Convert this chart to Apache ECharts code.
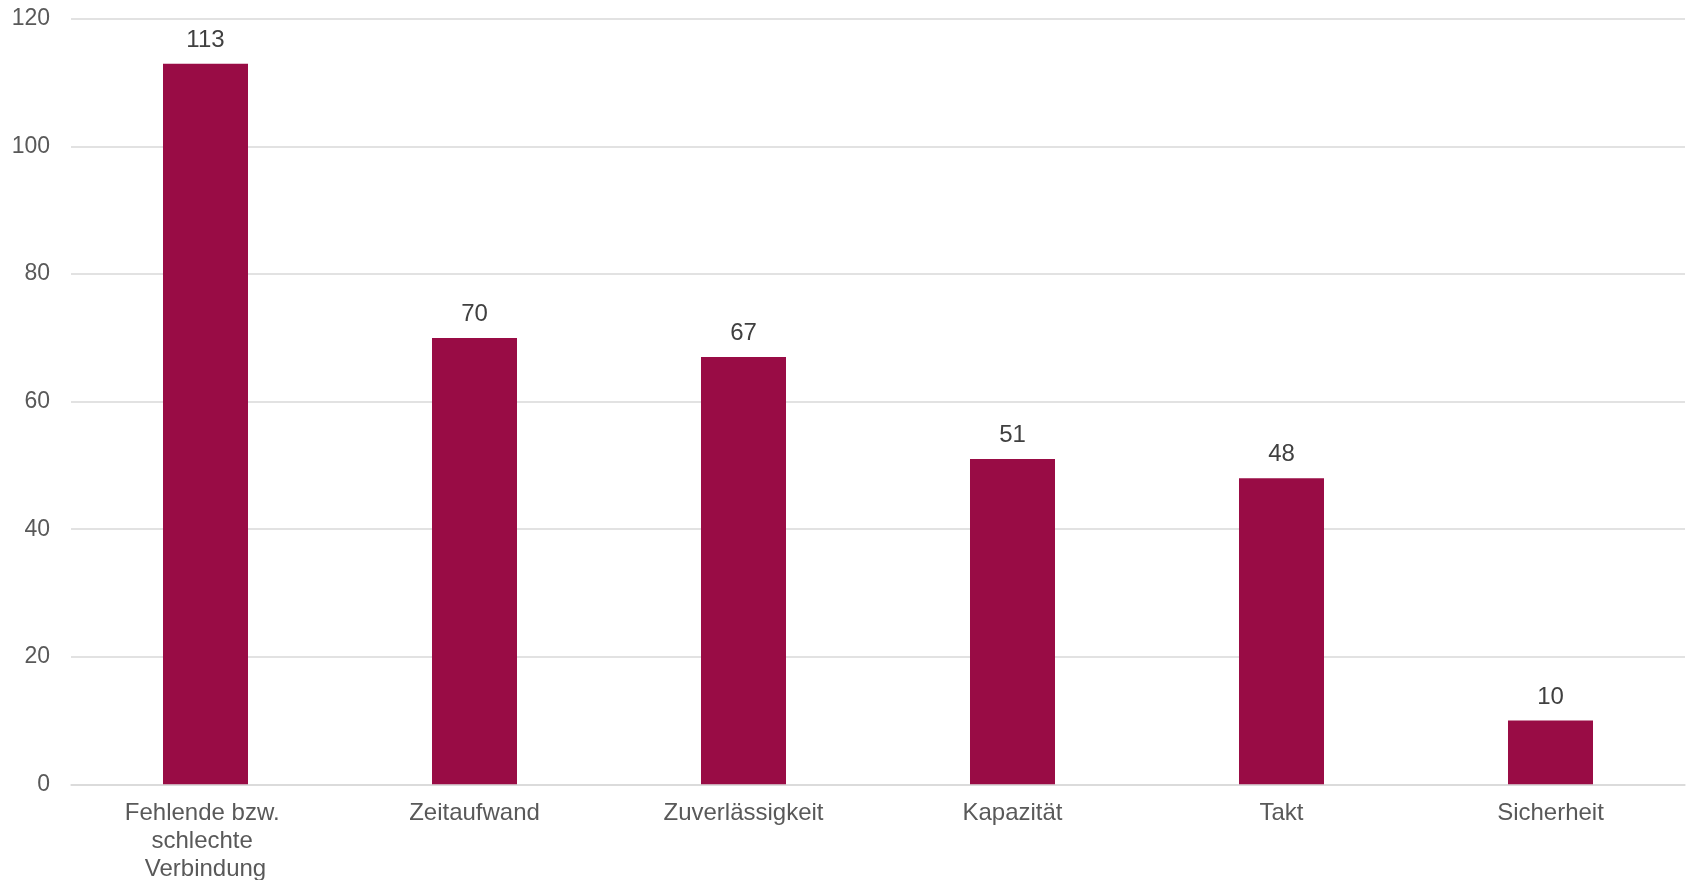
<!DOCTYPE html>
<html>
<head>
<meta charset="utf-8">
<script src="https://cdn.jsdelivr.net/npm/echarts@6/dist/echarts.min.js"></script>
<style>
html,body{margin:0;padding:0;background:#fff;}
#chart{width:1687px;height:880px;}
</style>
</head>
<body>
<div id="chart"></div>
<script>
const categories = ["Fehlende bzw. schlechte Verbindung", "Zeitaufwand", "Zuverlässigkeit", "Kapazität", "Takt", "Sicherheit"];
const values = [113, 70, 67, 51, 48, 10];
const yTicks = [0, 20, 40, 60, 80, 100, 120];

const chart = echarts.init(document.getElementById('chart'));
chart.setOption({
  animation: false,
  grid: {left: 71, right: 2, top: 19, bottom: 95.7, containLabel: false, outerBoundsMode: 'none'},
  xAxis: {
    type: 'category',
    data: categories,
    axisTick: {show: false},
    axisLine: {show: true, lineStyle: {color: '#d9d9d9', width: 1.5}},
    axisLabel: {
      interval: 0,
      margin: 15,
      color: '#595959',
      fontFamily: 'Liberation Sans, Arial, sans-serif',
      fontSize: 24,
      lineHeight: 28,
      width: 200,
      overflow: 'break',
      align: 'center'
    }
  },
  yAxis: {
    type: 'value',
    min: yTicks[0],
    max: yTicks[yTicks.length - 1],
    interval: 20,
    axisLine: {show: false},
    axisTick: {show: false},
    splitLine: {lineStyle: {color: '#d9d9d9', width: 1.5}},
    axisLabel: {
      margin: 21,
      color: '#595959',
      fontFamily: 'Liberation Sans, Arial, sans-serif',
      fontSize: 23
    }
  },
  series: [{
    type: 'bar',
    data: values,
    barWidth: '31.6%',
    itemStyle: {color: '#990C45'},
    label: {
      show: true,
      position: 'top',
      distance: 11.5,
      color: '#404040',
      fontFamily: 'Liberation Sans, Arial, sans-serif',
      fontSize: 24
    }
  }]
});
</script>
</body>
</html>
